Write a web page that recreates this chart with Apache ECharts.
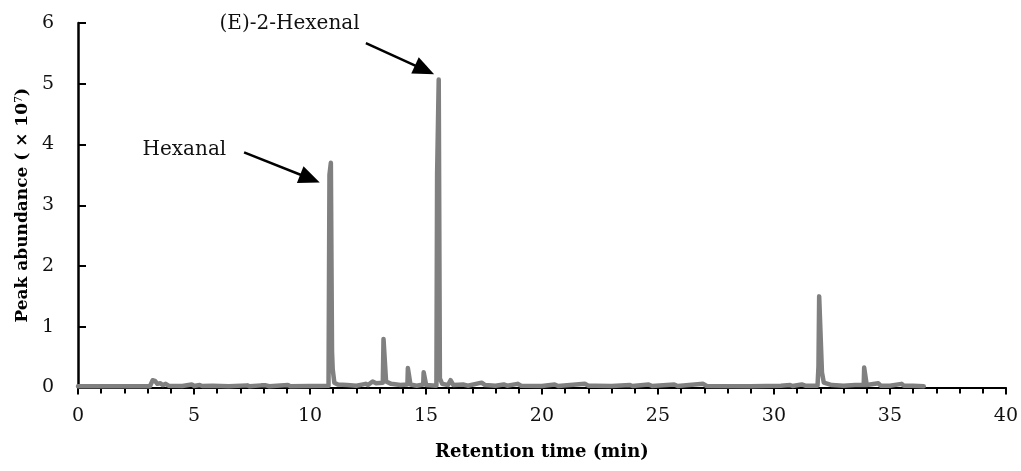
<!DOCTYPE html>
<html>
<head>
<meta charset="utf-8">
<style>
  html, body { margin: 0; padding: 0; background: #ffffff; }
  #chart { width: 1021px; height: 471px; }
</style>
<script src="https://cdn.jsdelivr.net/npm/echarts@6/dist/echarts.min.js"></script>
</head>
<body>
<div id="chart"></div>
<script>
// Chromatogram trace: retention time (min) and peak abundance (x 10^7)
const retentionTime = [
  0, 3.10, 3.22, 3.32, 3.42, 3.55, 3.65, 3.78, 3.90, 4.50,
  4.90, 5.00, 5.25, 5.35, 5.80, 6.50, 7.30, 7.40, 7.90, 8.10,
  8.25, 9.05, 9.15, 10.80, 10.84, 10.90, 10.95, 10.98, 11.05, 11.20,
  11.60, 12.00, 12.40, 12.50, 12.70, 12.85, 13.14, 13.17, 13.25, 13.28,
  13.50, 13.90, 14.20, 14.22, 14.30, 14.33, 14.60, 14.88, 14.90, 14.98,
  15.01, 15.45, 15.48, 15.55, 15.60, 15.70, 15.95, 16.03, 16.06, 16.14,
  16.18, 16.60, 16.80, 17.40, 17.55, 18.00, 18.35, 18.50, 18.95, 19.10,
  20.00, 20.55, 20.70, 21.85, 22.00, 22.30, 23.00, 23.80, 23.90, 24.60,
  24.75, 25.70, 25.85, 26.95, 27.10, 29.00, 30.30, 30.70, 30.80, 31.20,
  31.35, 31.88, 31.92, 31.95, 32.03, 32.07, 32.15, 32.50, 33.00, 33.50,
  33.87, 33.89, 33.97, 34.00, 34.50, 34.60, 35.00, 35.50, 35.60, 36.00,
  36.46
];
const abundance = [
  0.02, 0.02, 0.12, 0.11, 0.06, 0.07, 0.04, 0.06, 0.03, 0.025,
  0.05, 0.025, 0.04, 0.025, 0.03, 0.02, 0.035, 0.02, 0.035, 0.035,
  0.02, 0.04, 0.02, 0.03, 3.50, 3.70, 0.60, 0.30, 0.08, 0.05,
  0.04, 0.03, 0.06, 0.04, 0.10, 0.07, 0.08, 0.80, 0.78, 0.10,
  0.06, 0.04, 0.05, 0.32, 0.30, 0.05, 0.03, 0.05, 0.25, 0.23,
  0.04, 0.03, 3.50, 5.07, 0.15, 0.06, 0.04, 0.05, 0.12, 0.10,
  0.04, 0.05, 0.03, 0.08, 0.04, 0.03, 0.05, 0.03, 0.06, 0.03,
  0.025, 0.05, 0.025, 0.06, 0.03, 0.03, 0.025, 0.04, 0.025, 0.05,
  0.025, 0.05, 0.025, 0.06, 0.025, 0.02, 0.03, 0.04, 0.025, 0.05,
  0.03, 0.03, 0.35, 1.50, 1.48, 0.25, 0.08, 0.04, 0.03, 0.04,
  0.04, 0.33, 0.31, 0.04, 0.07, 0.03, 0.03, 0.06, 0.03, 0.03,
  0.02
];

// Annotated compounds: label anchor, arrow start and arrow end (data units)
const compoundNames = ['Hexanal', '(E)-2-Hexenal'];
const labelAnchor = [[2.76, 3.92], [12.16, 5.98]];
const labelSide = ['right', 'left'];
const arrowStart = [[7.16, 3.87], [12.41, 5.67]];
const arrowEnd = [[10.00, 3.44], [14.94, 5.23]];

const xTicks = { min: 0, max: 40, interval: 5 };
const yTicks = { min: 0, max: 6, interval: 1 };

const traceData = retentionTime.map((t, i) => [t, abundance[i]]);

const serif = 'DejaVu Serif';

const chart = echarts.init(document.getElementById('chart'), null, { renderer: 'canvas' });

chart.setOption({
  animation: false,
  backgroundColor: '#ffffff',
  grid: { left: 78, right: 15, top: 23, bottom: 83.5, containLabel: false },
  xAxis: {
    type: 'value',
    min: xTicks.min, max: xTicks.max, interval: xTicks.interval,
    name: 'Retention time (min)',
    nameLocation: 'middle',
    nameGap: 56,
    nameTextStyle: { fontFamily: serif, fontWeight: 'bold', fontSize: 18, color: '#000' },
    axisLine: { show: true, onZero: false, lineStyle: { color: '#000', width: 2 } },
    axisTick: { show: true, inside: false, length: 7, lineStyle: { color: '#000', width: 2 } },
    minorTick: { show: true, splitNumber: 5, length: 6, lineStyle: { color: '#000', width: 2 } },
    axisLabel: { margin: 19, fontFamily: serif, fontSize: 19, color: '#111' },
    splitLine: { show: false }
  },
  yAxis: {
    type: 'value',
    min: yTicks.min, max: yTicks.max, interval: yTicks.interval,
    name: '{t|Peak abundance ( × 10}{s|7}{t|)}',
    nameLocation: 'middle',
    nameGap: 39,
    nameRotate: 90,
    nameTextStyle: {
      rich: {
        t: { fontFamily: serif, fontWeight: 'bold', fontSize: 17, color: '#000' },
        s: { fontFamily: serif, fontSize: 11, color: '#000', verticalAlign: 'top', padding: [0, 0, 6, 0] }
      }
    },
    axisLine: { show: true, lineStyle: { color: '#000', width: 2.5 } },
    axisTick: { show: true, inside: true, length: 8, lineStyle: { color: '#000', width: 2 } },
    axisLabel: { margin: 24, fontFamily: serif, fontSize: 19, color: '#111' },
    splitLine: { show: false }
  },
  series: [{
    type: 'line',
    data: traceData,
    symbol: 'none',
    clip: false,
    lineStyle: { color: '#808080', width: 4.5, join: 'round', cap: 'round' },
    z: 3,
    markLine: {
      silent: true,
      symbol: ['none', 'triangle'],
      symbolSize: [18, 21],
      label: { show: false },
      lineStyle: { color: '#000', width: 2.5, type: 'solid' },
      data: compoundNames.map((n, i) => [
        { coord: arrowStart[i] },
        { coord: arrowEnd[i] }
      ])
    },
    markPoint: {
      silent: true,
      symbol: 'circle',
      symbolSize: 1,
      itemStyle: { color: 'rgba(0,0,0,0)' },
      data: compoundNames.map((n, i) => ({
        coord: labelAnchor[i],
        value: n,
        label: {
          show: true,
          position: labelSide[i],
          distance: 0,
          formatter: n,
          fontFamily: serif,
          fontSize: 20,
          color: '#111'
        }
      }))
    }
  }]
});
</script>
</body>
</html>
